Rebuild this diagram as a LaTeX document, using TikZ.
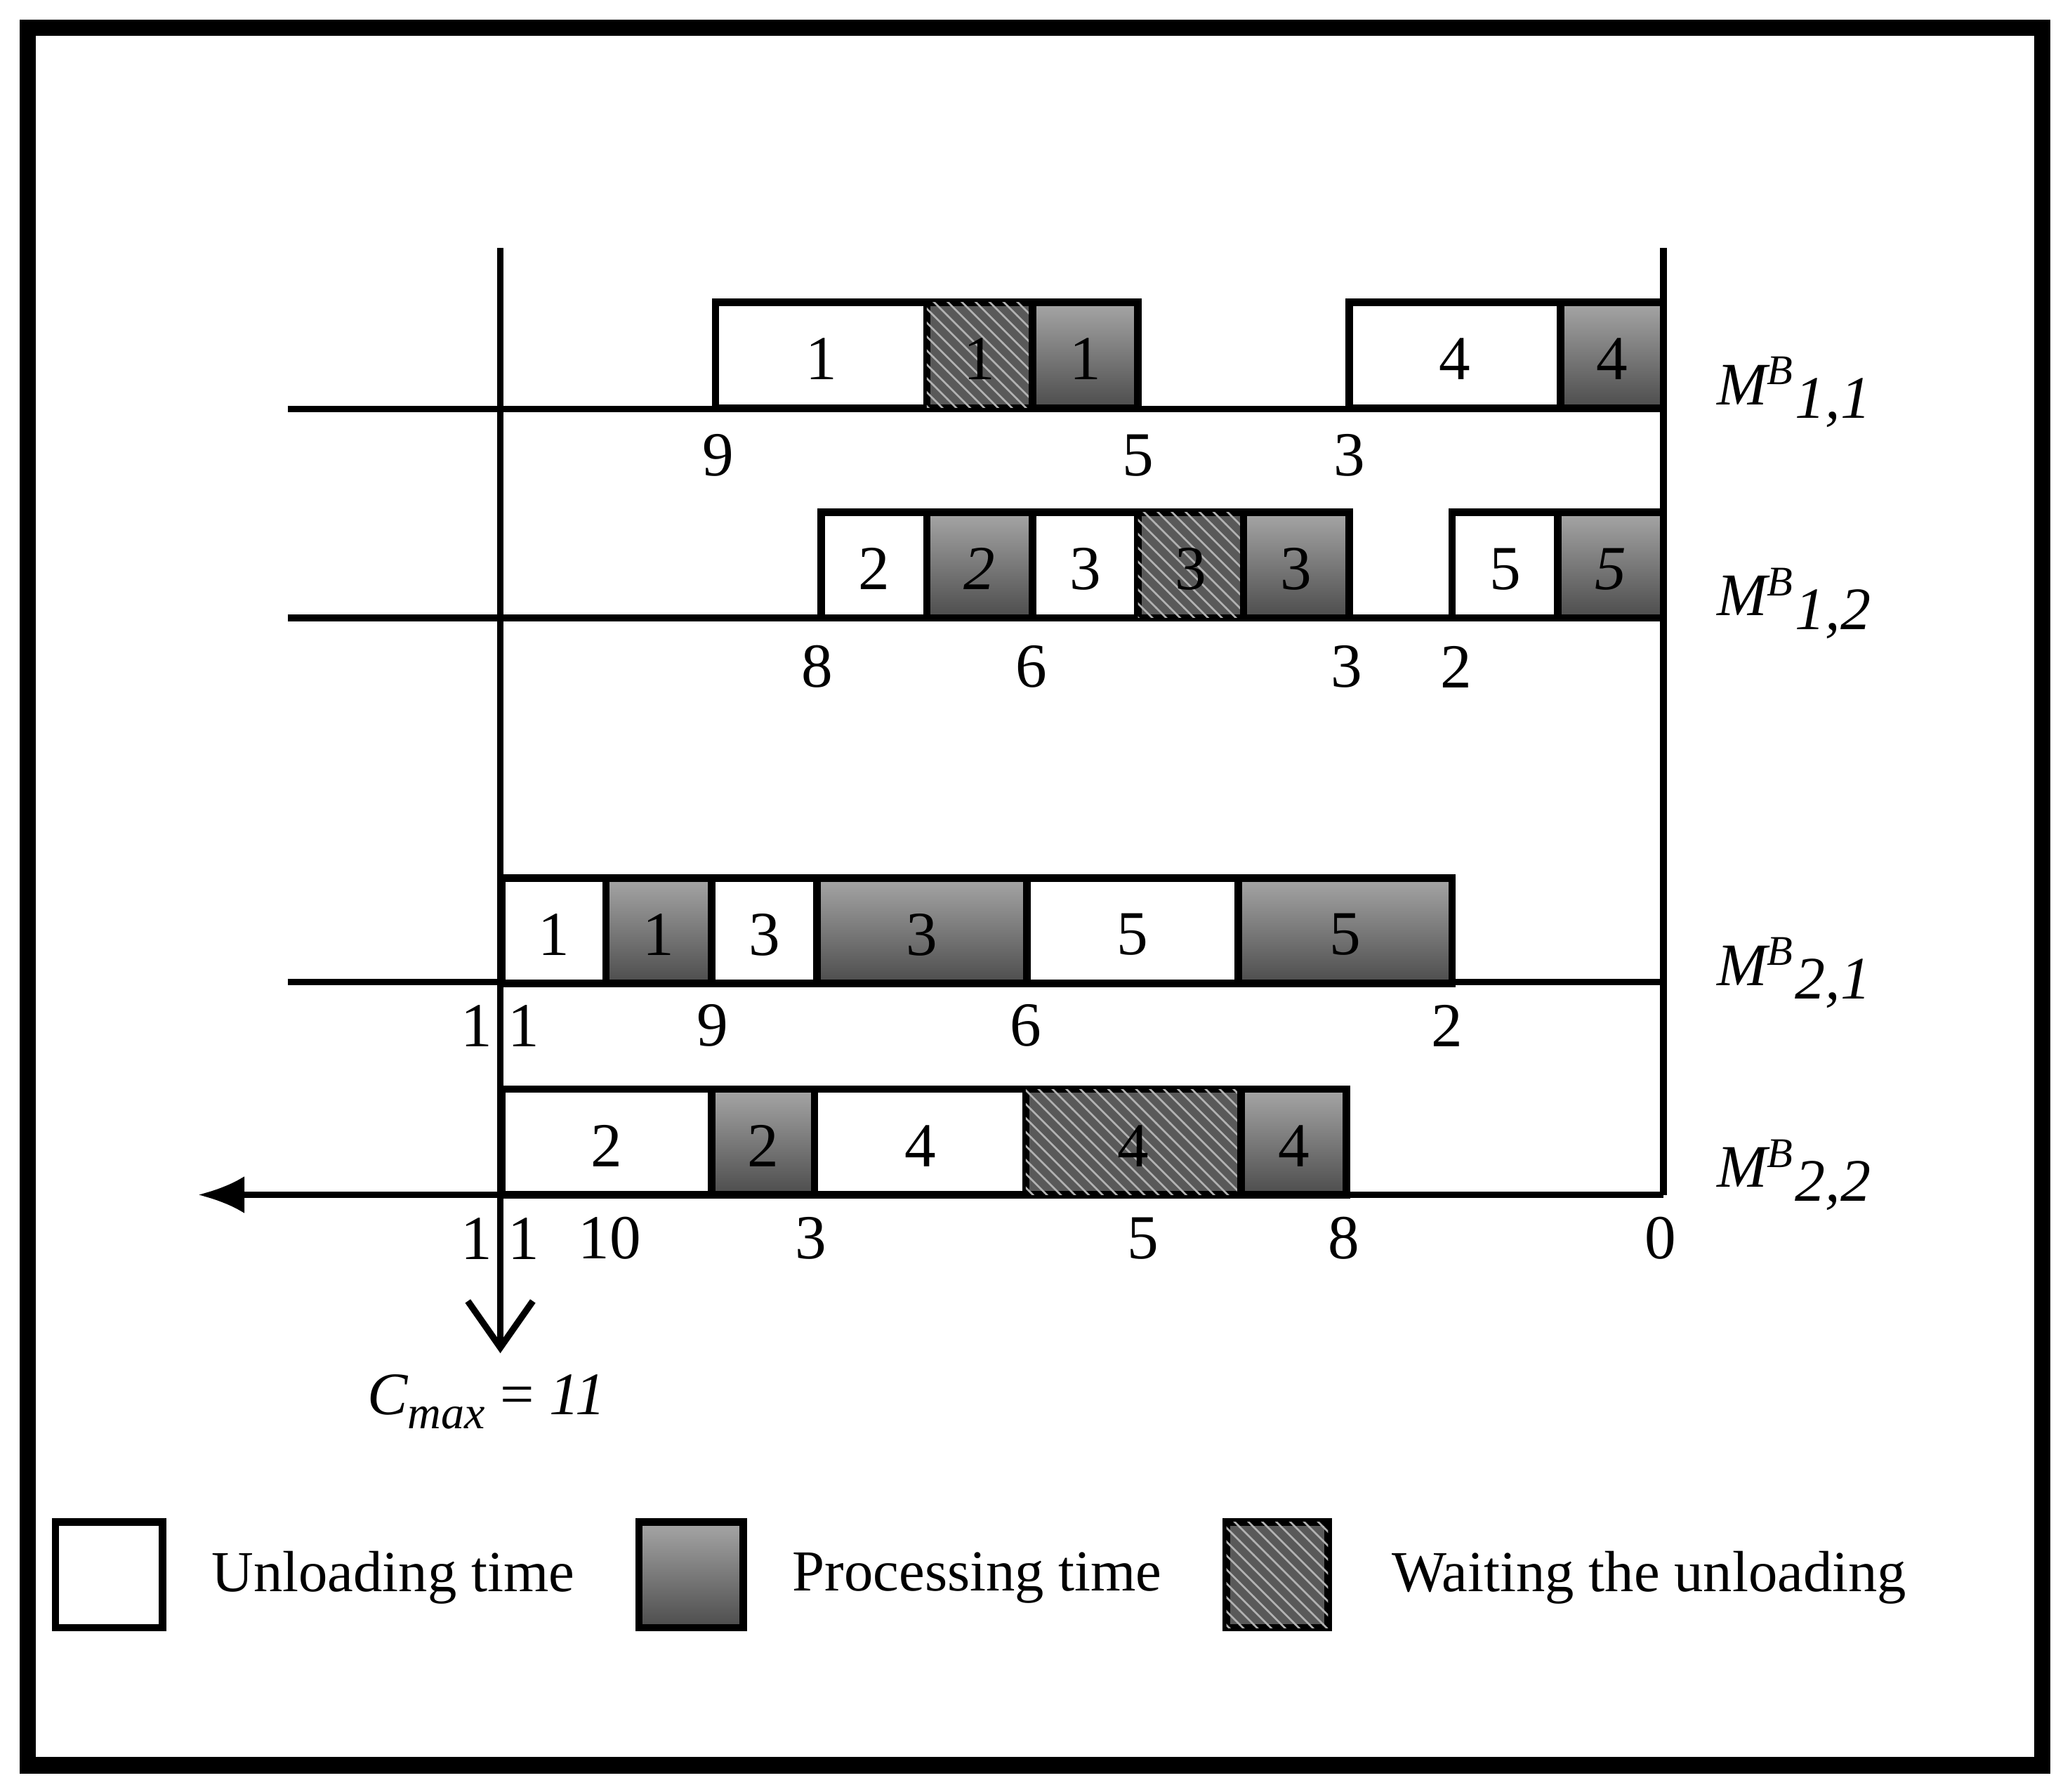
\documentclass[tikz,border=0pt]{standalone}
\usepackage{fontspec}
\setmainfont{Liberation Serif}
\usetikzlibrary{positioning}
\usetikzlibrary{arrows.meta}
\usetikzlibrary{patterns}

\tikzset{
  box/.style={draw=black, line width=1.6pt},
  unload/.style={box, fill=white},
  proc/.style={box, top color=black!35, bottom color=black!70},
  wait/.style={box, fill=black!65, postaction={pattern=north west lines, pattern color=black!30}},
  lbl/.style={font=\fontsize{13.5}{16}\selectfont, inner sep=0pt},
  leg/.style={font=\fontsize{12.5}{15}\selectfont, inner sep=0pt, anchor=west},
  mlbl/.style={font=\fontsize{13}{16}\selectfont\itshape, anchor=west, inner sep=0pt},
}

\begin{document}
\begin{tikzpicture}[x=0.01cm, y=-0.01cm, line width=1.4pt]
\newcommand{\Bx}[5]{% style, x0, x1, ytop, text
  \draw[#1] (#2,#4) rectangle (#3,#4+80);
  \node[lbl] at ({(#2+#3)/2},#4+43) {#5};}
% frame
\useasboundingbox (0,0) rectangle (1568,1357);
\draw[line width=3.6pt] (21,21) rectangle (1547,1337);

% axes
\coordinate (vtop) at (379,188);
\coordinate (vbot) at (379,1025);
\coordinate (rtop) at (1260,188);
\coordinate (rbot) at (1260,905);
\coordinate (tleft) at (150,905);
\draw (rtop) -- (rbot);
\draw[-{Straight Barb[length=10pt,width=14pt,line width=1.4pt]}] (vtop) -- (vbot);
\draw[-{Latex[length=10pt,width=8pt]}] (rbot) -- (tleft);
\foreach \y in {310,468,744} \draw (218,\y) -- (1260,\y);

% machine M^B_{1,1}
\Bx{unload}{542}{702}{229}{1}
\Bx{wait}{702}{782}{229}{1}
\Bx{proc}{782}{862}{229}{1}
\Bx{unload}{1022}{1182}{229}{4}
\Bx{proc}{1182}{1260}{229}{4}
\foreach \x/\t in {544/9, 862/5, 1022/3} \node[lbl] at (\x,345) {\t};

% machine M^B_{1,2}
\Bx{unload}{622}{702}{388}{2}
\Bx{proc}{702}{782}{388}{\itshape 2}
\Bx{unload}{782}{862}{388}{3}
\Bx{wait}{862}{942}{388}{3}
\Bx{proc}{942}{1022}{388}{3}
\Bx{unload}{1100}{1180}{388}{5}
\Bx{proc}{1180}{1260}{388}{\itshape 5}
\foreach \x/\t in {619/8, 781/6, 1020/3, 1103/2} \node[lbl] at (\x,505) {\t};

% machine M^B_{2,1}
\Bx{unload}{380}{459}{665}{1}
\Bx{proc}{459}{539}{665}{1}
\Bx{unload}{539}{619}{665}{3}
\Bx{proc}{619}{778}{665}{3}
\Bx{unload}{778}{938}{665}{5}
\Bx{proc}{938}{1100}{665}{5}
\foreach \x/\t in {379/1\hspace{0.25em}1, 540/9, 777/6, 1096/2} \node[lbl] at (\x,777) {\t};

% machine M^B_{2,2}
\Bx{unload}{380}{539}{825}{2}
\Bx{proc}{539}{617}{825}{2}
\Bx{unload}{617}{777}{825}{4}
\Bx{wait}{777}{940}{825}{4}
\Bx{proc}{940}{1020}{825}{4}
\foreach \x/\t in {379/1\hspace{0.25em}1, 462/10, 614/3, 866/5, 1018/8, 1258/0} \node[lbl] at (\x,938) {\t};

% machine names
\node[mlbl] (m11) at (1298,297) {M\textsuperscript{B}\raisebox{-0.5ex}{1,1}};
\node[mlbl] (m12) at (1298,457) {M\textsuperscript{B}\raisebox{-0.5ex}{1,2}};
\node[mlbl] (m21) at (1298,737) {M\textsuperscript{B}\raisebox{-0.5ex}{2,1}};
\node[mlbl] (m22) at (1298,890) {M\textsuperscript{B}\raisebox{-0.5ex}{2,2}};
\node[mlbl] (cmax) at (276,1062) {C\raisebox{-0.5ex}{\fontsize{10}{12}\selectfont max}\ \upshape= \itshape 11};

% legend
\draw[unload] (42,1153) rectangle (123,1233);
\node[leg] (lu) at (158,1195) {Unloading time};
\draw[proc] (484,1153) rectangle (563,1233);
\node[leg] (lp) at (598,1195) {Processing time};
\draw[wait] (929,1153) rectangle (1006,1233);
\node[leg] (lw) at (1052,1195) {Waiting the unloading};
\end{tikzpicture}
\end{document}
